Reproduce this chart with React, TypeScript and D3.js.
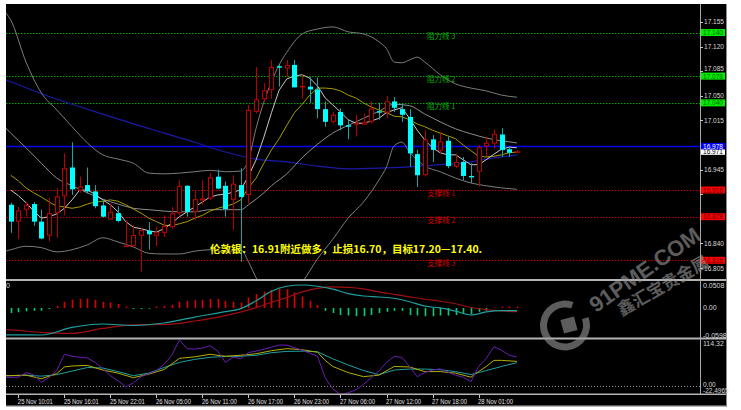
import React from "react";
import * as d3 from "d3";

// ---------- DATA ----------
const opens = [
  16.895, 16.871, 16.888, 16.896, 16.871, 16.851, 16.883, 16.907, 16.948, 16.915,
  16.923, 16.914, 16.894, 16.874, 16.883, 16.836, 16.836, 16.851, 16.858, 16.851,
  16.855, 16.863, 16.883, 16.922, 16.885, 16.901, 16.904, 16.935, 16.922, 16.902,
  16.923, 16.909, 17.027, 17.045, 17.058, 17.092, 17.089, 17.094, 17.063, 17.063,
  17.059, 17.031, 17.013, 17.027, 17.008, 17.009, 17.009, 17.013, 17.028, 17.026,
  17.042, 17.031, 17.020, 16.967, 16.937, 16.988, 16.972, 16.986, 16.949, 16.956,
  16.936, 16.942, 16.978, 16.982, 16.995, 16.974, 16.969,
];
const highs = [
  16.898, 16.892, 16.899, 16.899, 16.888, 16.905, 16.919, 16.968, 16.984, 16.935,
  16.948, 16.923, 16.902, 16.897, 16.893, 16.873, 16.866, 16.862, 16.870, 16.864,
  16.880, 16.892, 16.930, 16.923, 16.916, 16.930, 16.940, 16.945, 16.928, 16.937,
  16.947, 17.037, 17.091, 17.068, 17.101, 17.095, 17.101, 17.101, 17.080, 17.077,
  17.076, 17.042, 17.027, 17.032, 17.016, 17.023, 17.025, 17.042, 17.040, 17.050,
  17.048, 17.039, 17.031, 16.973, 17.001, 16.994, 16.999, 16.992, 16.968, 16.963,
  16.954, 16.980, 16.992, 17.002, 17.004, 16.978, 16.973,
];
const lows = [
  16.855, 16.846, 16.878, 16.865, 16.846, 16.843, 16.848, 16.880, 16.909, 16.912,
  16.911, 16.890, 16.877, 16.874, 16.870, 16.835, 16.835, 16.800, 16.831, 16.836,
  16.849, 16.861, 16.880, 16.878, 16.873, 16.895, 16.902, 16.917, 16.878, 16.859,
  16.814, 16.897, 17.025, 17.042, 17.046, 17.063, 17.077, 17.062, 17.046, 17.040,
  17.018, 17.006, 17.011, 17.001, 16.988, 16.992, 17.009, 17.011, 17.016, 17.018,
  17.027, 17.013, 16.949, 16.920, 16.935, 16.956, 16.968, 16.947, 16.947, 16.930,
  16.926, 16.921, 16.963, 16.975, 16.963, 16.963, 16.969,
];
const closes = [
  16.871, 16.887, 16.895, 16.871, 16.847, 16.883, 16.907, 16.947, 16.917, 16.921,
  16.914, 16.893, 16.878, 16.885, 16.872, 16.837, 16.852, 16.859, 16.853, 16.856,
  16.865, 16.883, 16.922, 16.885, 16.903, 16.904, 16.934, 16.918, 16.889, 16.925,
  16.906, 17.030, 17.045, 17.058, 17.091, 17.090, 17.094, 17.062, 17.064, 17.059,
  17.031, 17.013, 17.023, 17.008, 17.006, 17.011, 17.013, 17.032, 17.026, 17.042,
  17.033, 17.023, 16.968, 16.937, 16.988, 16.973, 16.985, 16.950, 16.956, 16.936,
  16.934, 16.977, 16.983, 16.996, 16.973, 16.969, 16.971,
];

const timeLabels = [
  "25 Nov 10:01", "25 Nov 16:01", "25 Nov 22:01", "26 Nov 05:00", "26 Nov 11:00", "26 Nov 17:00",
  "26 Nov 23:00", "27 Nov 06:00", "27 Nov 12:00", "27 Nov 18:00", "28 Nov 01:00",
];
const timeLabelBars = [1, 7, 13, 19, 25, 31, 37, 43, 49, 55, 61];

const priceTicks = [17.155, 17.12, 17.085, 17.05, 17.015, 16.98, 16.945, 16.91, 16.875, 16.84, 16.805];

const resistLevels = [17.14, 17.078, 17.04];
const resistNames = ["阻力线 3", "阻力线 2", "阻力线 1"];
const supportLevels = [16.916, 16.878, 16.816];
const supportNames = ["支撑线 1", "支撑线 2", "支撑线 3"];
const blueLevel = 16.978;
const bidPrice = 16.971;

const noteText = "伦敦银：16.91附近做多，止损16.70，目标17.20—17.40.";

// Bollinger bands  [bar, price]
const bandUpper: [number, number][] = [
  [-1, 17.172], [0, 17.158], [2, 17.098], [4, 17.054], [6, 17.03], [8, 17.006], [10, 16.983],
  [12, 16.966], [14, 16.96], [16, 16.954], [18, 16.94], [20, 16.939], [22, 16.94], [24, 16.942],
  [26, 16.944], [28, 16.942], [30, 16.943], [31, 16.959], [32, 17.004], [33, 17.041], [34, 17.07],
  [35, 17.094], [36, 17.112], [38, 17.138], [40, 17.145], [42, 17.148], [44, 17.141], [46, 17.138],
  [48, 17.127], [49, 17.117], [50, 17.098], [51, 17.097], [52, 17.101], [53, 17.105], [54, 17.098],
  [56, 17.08], [58, 17.067], [60, 17.061], [62, 17.057], [64, 17.051], [66, 17.048],
];
const bandMid: [number, number][] = [
  [-1, 17.008], [0, 16.997], [2, 16.976], [4, 16.954], [6, 16.933], [8, 16.922], [10, 16.912],
  [12, 16.903], [14, 16.896], [16, 16.89], [18, 16.888], [20, 16.886], [22, 16.885], [24, 16.885],
  [26, 16.888], [28, 16.888], [30, 16.888], [31, 16.895], [32, 16.903], [33, 16.912], [34, 16.922],
  [36, 16.939], [38, 16.962], [40, 16.981], [42, 16.997], [44, 17.008], [46, 17.018], [48, 17.028],
  [50, 17.038], [52, 17.036], [54, 17.024], [56, 17.013], [58, 17.003], [60, 16.996], [62, 16.99],
  [64, 16.986], [66, 16.983],
];
const bandLower: [number, number][] = [
  [-1, 16.828], [0, 16.831], [2, 16.836], [4, 16.834], [6, 16.828], [8, 16.831], [10, 16.838],
  [12, 16.848], [14, 16.842], [16, 16.835], [18, 16.826], [20, 16.825], [22, 16.825], [24, 16.829],
  [26, 16.831], [28, 16.828], [30, 16.831], [31, 16.814], [32, 16.791], [33, 16.774], [34, 16.764],
  [36, 16.765], [38, 16.785], [40, 16.818], [42, 16.846], [44, 16.876], [46, 16.899], [48, 16.93],
  [49, 16.949], [50, 16.979], [51, 16.984], [52, 16.97], [54, 16.95], [56, 16.942], [58, 16.933],
  [60, 16.926], [62, 16.922], [64, 16.919], [66, 16.917],
];

// moving averages (one value per bar)
const maFast = [
  16.916, 16.908, 16.898, 16.886, 16.876, 16.878, 16.882, 16.89, 16.902, 16.916,
  16.916, 16.91, 16.902, 16.895, 16.885, 16.871, 16.863, 16.861, 16.858, 16.856,
  16.861, 16.869, 16.878, 16.885, 16.892, 16.899, 16.906, 16.909, 16.91, 16.913,
  16.916, 16.936, 16.959, 16.991, 17.026, 17.058, 17.074, 17.078, 17.08, 17.075,
  17.064, 17.047, 17.037, 17.027, 17.016, 17.011, 17.011, 17.014, 17.018, 17.026,
  17.03, 17.033, 17.018, 17.001, 16.987, 16.976, 16.969, 16.966, 16.966, 16.959,
  16.952, 16.952, 16.959, 16.967, 16.974, 16.977, 16.976,
];
const maSlow = [
  16.937, 16.929, 16.919, 16.912, 16.906, 16.899, 16.893, 16.892, 16.89, 16.892,
  16.896, 16.899, 16.9, 16.902, 16.9, 16.895, 16.889, 16.883, 16.876, 16.871,
  16.866, 16.865, 16.868, 16.871, 16.876, 16.88, 16.886, 16.89, 16.893, 16.896,
  16.902, 16.919, 16.933, 16.954, 16.973, 16.989, 17.008, 17.026, 17.038, 17.051,
  17.061, 17.061, 17.06, 17.057, 17.051, 17.047, 17.04, 17.034, 17.03, 17.026,
  17.021, 17.02, 17.016, 17.01, 17.006, 17.001, 16.997, 16.993, 16.989, 16.98,
  16.972, 16.964, 16.963, 16.964, 16.966, 16.969, 16.97,
];
const maLong: [number, number][] = [
  [-1, 17.074], [0, 17.07], [4, 17.053], [8, 17.038], [12, 17.024], [16, 17.01], [20, 16.997],
  [24, 16.984], [28, 16.97], [32, 16.96], [36, 16.956], [40, 16.95], [44, 16.946], [48, 16.947],
  [52, 16.949], [56, 16.952], [60, 16.956], [62, 16.96], [64, 16.963], [66, 16.966],
];

// MACD panel
const macdHist = [
  -0.011, -0.0096, -0.0074, -0.0059, -0.0059, -0.0022, 0.005, 0.0138, 0.0182, 0.0197,
  0.021, 0.0182, 0.0138, 0.0123, 0.0088, 0.0035, -0.0022, -0.0022, -0.0015, 0.0035,
  0.005, 0.0072, 0.0138, 0.016, 0.0175, 0.0182, 0.0197, 0.0197, 0.016, 0.0138,
  0.0123, 0.0232, 0.0307, 0.0357, 0.0401, 0.0429, 0.0416, 0.0342, 0.0254, 0.016,
  0.0066, -0.0059, -0.011, -0.0153, -0.0169, -0.0184, -0.0184, -0.0153, -0.011, -0.0081,
  -0.0059, -0.0059, -0.0153, -0.0169, -0.0184, -0.0184, -0.0169, -0.0169, -0.0153, -0.0131,
  -0.0131, -0.0081, -0.0059, 0.0013, 0.0035, 0.0035, 0.0035,
];
const macdMain: [number, number][] = [
  [-1, -0.0594], [0, -0.0596], [4, -0.0598], [8, -0.0431], [12, -0.0355], [16, -0.0388],
  [20, -0.0333], [24, -0.0201], [28, -0.0081], [30, -0.0015], [32, 0.016], [34, 0.0368],
  [36, 0.048], [38, 0.0508], [40, 0.048], [42, 0.0418], [44, 0.0318], [46, 0.0265], [48, 0.0243],
  [50, 0.0215], [52, 0.0138], [54, 0.0039], [56, 0.0], [58, -0.007], [60, -0.0153], [62, -0.0088],
  [64, -0.0059], [66, -0.0059],
];
const macdSignal: [number, number][] = [
  [-1, -0.048], [0, -0.0486], [4, -0.0541], [8, -0.0563], [12, -0.0453], [16, -0.0372],
  [20, -0.0366], [24, -0.0289], [28, -0.0169], [32, 0.0007], [34, 0.0127], [36, 0.0232],
  [38, 0.0357], [40, 0.0434], [42, 0.0466], [44, 0.0456], [46, 0.0423], [48, 0.0357], [50, 0.0302],
  [52, 0.0247], [54, 0.0193], [56, 0.0149], [58, 0.0094], [60, 0.0011], [62, -0.0037],
  [64, -0.0066], [66, -0.0081],
];
const macdTickValues = [0.0508, 0, -0.0598];
const macdTickLabels = ["0.0508", "0.00", "-0.0598"];

// KDJ panel
const kdjJ: [number, number][] = [
  [-1, 20.5], [0, 20.5], [1, 21.0], [2, 32.5], [3, 26.6], [4, 8.2], [5, 20.5], [6, 37.6], [7, 78.5],
  [8, 73.4], [10, 69.1], [11, 58.1], [12, 42.7], [13, 24.8], [14, 12.0], [15, -3.3], [16, 6.9],
  [17, 22.3], [18, 29.9], [19, 37.6], [20, 52.9], [21, 76.0], [22, 114.3], [23, 92.6], [24, 91.3],
  [25, 93.9], [26, 99.8], [27, 86.2], [28, 58.1], [29, 71.6], [30, 67.5], [31, 82.9], [32, 86.2],
  [34, 96.4], [35, 101.5], [36, 101.5], [38, 88.8], [40, 73.4], [41, 19.7], [42, -8.4],
  [43, -22.5], [44, -18.0], [45, -11.0], [46, 3.1], [47, 19.7], [48, 36.3], [49, 58.1], [50, 72.9],
  [51, 70.8], [52, 47.8], [53, 22.3], [54, 32.5], [55, 38.9], [56, 41.9], [57, 33.8], [58, 26.1],
  [59, 21.0], [60, 9.5], [61, 47.8], [62, 68.3], [63, 97.2], [64, 88.8], [65, 76.0], [66, 71.6],
];
const kdjK: [number, number][] = [
  [-1, 24.8], [0, 24.8], [2, 26.1], [4, 17.1], [6, 29.9], [7, 46.6], [8, 49.1], [10, 50.4],
  [12, 38.9], [14, 31.2], [16, 19.7], [18, 28.7], [20, 40.2], [22, 68.3], [24, 72.1], [26, 78.5],
  [28, 73.4], [30, 76.0], [32, 79.8], [34, 87.5], [36, 92.6], [38, 90.0], [40, 83.6], [41, 63.2],
  [42, 47.8], [44, 32.5], [46, 22.3], [48, 26.1], [50, 47.8], [52, 46.6], [54, 35.0], [56, 35.0],
  [58, 31.2], [60, 21.0], [61, 35.0], [62, 47.8], [63, 63.2], [64, 63.2], [66, 60.6],
];
const kdjD: [number, number][] = [
  [-1, 24.8], [0, 24.8], [2, 26.1], [4, 23.5], [6, 27.4], [8, 36.3], [10, 45.3], [12, 44.0],
  [14, 35.0], [16, 24.8], [18, 31.2], [20, 45.3], [22, 58.1], [24, 65.7], [26, 70.8], [28, 73.4],
  [30, 73.4], [32, 76.0], [34, 82.4], [36, 85.7], [38, 86.2], [40, 84.9], [42, 67.0], [44, 51.7],
  [46, 37.6], [48, 27.4], [50, 38.9], [52, 41.4], [54, 41.4], [56, 39.6], [58, 35.0], [60, 27.4],
  [62, 37.6], [64, 47.8], [66, 57.3],
];
const kdjTickValues = [114.32, 0, -22.4965];
const kdjTickLabels = ["114.32", "0.00", "-22.4965"];

// ---------- COMPONENT ----------
const NUM_FONT = "'Liberation Sans', Arial, sans-serif";
const CJK_FONT = "'Noto Sans CJK SC', 'Noto Sans', sans-serif";

export default function App() {
  const x = d3.scaleLinear().domain([0, 66]).range([10.7, 516.9]);
  const yP = d3.scaleLinear().domain([16.7894, 17.1806]).range([279, 4]);
  const yM = d3.scaleLinear().domain([-0.0598, 0.0508]).range([335, 285]);
  const yS = d3.scaleLinear().domain([-22.4965, 114.32]).range([394.5, 340]);

  const pairs = (arr: number[]) => arr.map((v, i) => [i, v] as [number, number]);
  const gen = (ys: d3.ScaleLinear<number, number>, curve: d3.CurveFactory = d3.curveLinear) =>
    d3
      .line<[number, number]>()
      .x((d) => x(d[0]))
      .y((d) => ys(d[1]))
      .curve(curve);

  const smooth = d3.curveMonotoneX;
  const lp = gen(yP, smooth);
  const lpLin = gen(yP);
  const lm = gen(yM, smooth);
  const ls = gen(yS, d3.curveLinear);

  const crisp = (v: number) => Math.round(v) + 0.5;

  // price tick labels hidden behind the coloured level boxes are not drawn (as in the reference);
  // labels that touch a box are nudged away from it
  const boxLevels = [...resistLevels, ...supportLevels, blueLevel, bidPrice];
  const visibleTicks = priceTicks.filter(
    (t) => !boxLevels.some((b) => Math.abs(yP(t) - yP(b)) < 4.5)
  );
  const labelY = (t: number) => {
    let y = yP(t);
    boxLevels.forEach((b) => {
      const d = y - yP(b);
      if (Math.abs(d) < 7.5) y = yP(b) + Math.sign(d) * 7.5;
    });
    return y;
  };

  const ringArc = d3.arc()({
    innerRadius: 18,
    outerRadius: 25,
    startAngle: (70 * Math.PI) / 180,
    endAngle: (380 * Math.PI) / 180,
  } as any) as string;

  return (
    <svg
      width={741}
      height={410}
      style={{ position: "fixed", left: 0, top: 0, display: "block" }}
      fontFamily={NUM_FONT}
    >
      <defs>
        <clipPath id="clipMain">
          <rect x={6} y={4} width={694} height={275} />
        </clipPath>
        <clipPath id="clipMacd">
          <rect x={6} y={281} width={694} height={56.5} />
        </clipPath>
        <clipPath id="clipKdj">
          <rect x={6} y={339.5} width={694} height={54} />
        </clipPath>
      </defs>

      <rect x={0} y={0} width={741} height={410} fill="#ffffff" />
      <rect x={6} y={4} width={721} height={403} fill="#000000" />

      {/* ---------- MAIN PANEL ---------- */}
      <g clipPath="url(#clipMain)">
        {resistLevels.map((v, k) => (
          <line key={"r" + k} x1={6} x2={700} y1={crisp(yP(v))} y2={crisp(yP(v))}
            stroke="#00a800" strokeWidth={1} strokeDasharray="1.5,1.5" />
        ))}
        {supportLevels.map((v, k) => (
          <line key={"s" + k} x1={6} x2={700} y1={crisp(yP(v))} y2={crisp(yP(v))}
            stroke="#c00000" strokeWidth={1} strokeDasharray="1.5,1.5" />
        ))}
        <line x1={6} x2={700} y1={crisp(yP(blueLevel))} y2={crisp(yP(blueLevel))} stroke="#0000f0" strokeWidth={1.3} />

        {/* indicator lines */}
        <path d={lp(maLong) || ""} fill="none" stroke="#1a1aa8" strokeWidth={1.2} />
        <path d={lp(bandUpper) || ""} fill="none" stroke="#7c7c7c" strokeWidth={1} />
        <path d={lp(bandLower) || ""} fill="none" stroke="#7c7c7c" strokeWidth={1} />
        <path d={lp(bandMid) || ""} fill="none" stroke="#8c8c8c" strokeWidth={1} />
        <path d={lpLin(pairs(maSlow)) || ""} fill="none" stroke="#a89c00" strokeWidth={1} />
        <path d={lpLin(pairs(maFast)) || ""} fill="none" stroke="#c8c8c8" strokeWidth={1} />

        {/* candles */}
        {opens.map((o, i) => {
          const c = closes[i];
          const cx = Math.round(x(i));
          const bull = c >= o;
          const top = yP(Math.max(o, c));
          const bot = yP(Math.min(o, c));
          const h = Math.max(1, bot - top);
          return (
            <g key={"c" + i}>
              <line x1={cx + 0.5} x2={cx + 0.5} y1={yP(highs[i])} y2={yP(lows[i])}
                stroke={bull ? "#b80000" : "#14a8a8"} strokeWidth={1} />
              {bull ? (
                <rect x={cx - 1.5} y={top + 0.5} width={4} height={Math.max(0.5, h - 1)}
                  fill="#000" stroke="#c00000" strokeWidth={1} />
              ) : (
                <rect x={cx - 2} y={top} width={5} height={h} fill="#00ffff" />
              )}
            </g>
          );
        })}

        {/* level names */}
        {resistLevels.map((v, k) => (
          <text key={"rn" + k} x={427} y={yP(v) + 6} fontSize={7.5} fill="#00b000" fontFamily={CJK_FONT}>
            {resistNames[k]}
          </text>
        ))}
        {supportLevels.map((v, k) => (
          <text key={"sn" + k} x={427} y={yP(v) + 6} fontSize={7.5} fill="#d00000" fontFamily={CJK_FONT}>
            {supportNames[k]}
          </text>
        ))}

        <text x={210} y={252.5} fontSize={10.5} fontWeight="bold" fill="#ffff00" fontFamily={CJK_FONT}
          textLength={272} lengthAdjust="spacingAndGlyphs">
          {noteText}
        </text>
      </g>

      {/* ---------- MACD PANEL ---------- */}
      <g clipPath="url(#clipMacd)">
        {macdHist.map((v, i) => {
          const cx = Math.round(x(i)) + 0.5;
          return (
            <line key={"h" + i} x1={cx} x2={cx} y1={yM(0)} y2={yM(v)}
              stroke={v >= 0 ? "#e00000" : "#00d070"} strokeWidth={1.6} />
          );
        })}
        <path d={lm(macdSignal) || ""} fill="none" stroke="#a01010" strokeWidth={1.2} />
        <path d={lm(macdMain) || ""} fill="none" stroke="#1fa0a0" strokeWidth={1.2} />
      </g>
      <text x={6} y={287.5} fontSize={7} fill="#d8d8d8">0</text>

      {/* ---------- KDJ PANEL ---------- */}
      <g clipPath="url(#clipKdj)">
        <line x1={6} x2={700} y1={crisp(yS(0))} y2={crisp(yS(0))} stroke="#8a8a8a" strokeDasharray="1,2" />
        <path d={ls(kdjD) || ""} fill="none" stroke="#1fa0a0" strokeWidth={1} />
        <path d={ls(kdjK) || ""} fill="none" stroke="#b4b000" strokeWidth={1} />
        <path d={ls(kdjJ) || ""} fill="none" stroke="#6c1cb4" strokeWidth={1} />
      </g>

      {/* ---------- FRAMES ---------- */}
      <rect x={6} y={279} width={721} height={2} fill="#b4b4b4" />
      <rect x={6} y={337.5} width={721} height={2} fill="#b4b4b4" />
      <rect x={6} y={393.5} width={721} height={1.5} fill="#b4b4b4" />
      <rect x={6} y={405.5} width={721} height={1.5} fill="#b4b4b4" />
      <line x1={700.5} x2={700.5} y1={4} y2={395} stroke="#a8a8a8" strokeWidth={1} />
      <line x1={726.5} x2={726.5} y1={4} y2={407} stroke="#8a8a8a" strokeWidth={1} />

      {/* price axis */}
      {priceTicks.map((v, k) => (
        <line key={"ptk" + k} x1={700} x2={703} y1={crisp(yP(v))} y2={crisp(yP(v))} stroke="#c8c8c8" />
      ))}
      {visibleTicks.map((v, k) => (
        <text key={"pt" + k} x={704} y={labelY(v) + 2.5} fontSize={7} fill="#d8d8d8" textLength={20} lengthAdjust="spacingAndGlyphs">
          {v.toFixed(3)}
        </text>
      ))}
      {resistLevels.map((v, k) => (
        <g key={"rb" + k}>
          <rect x={701} y={yP(v) - 3.5} width={24} height={7} fill="#00ee00" />
          <text x={703} y={yP(v) + 2.5} fontSize={7} fill="#006000" textLength={20} lengthAdjust="spacingAndGlyphs">
            {v.toFixed(3)}
          </text>
        </g>
      ))}
      {supportLevels.map((v, k) => (
        <g key={"sb" + k}>
          <rect x={701} y={yP(v) - 3.5} width={24} height={7} fill="#ff0000" />
          <text x={703} y={yP(v) + 2.5} fontSize={7} fill="#600000" textLength={20} lengthAdjust="spacingAndGlyphs">
            {v.toFixed(3)}
          </text>
        </g>
      ))}
      <rect x={701} y={yP(bidPrice) - 3} width={24} height={6.5} fill="#ffffff" />
      <text x={703} y={yP(bidPrice) + 2.8} fontSize={6.5} fill="#000000" textLength={20} lengthAdjust="spacingAndGlyphs">
        {bidPrice.toFixed(3)}
      </text>
      <rect x={701} y={yP(blueLevel) - 3.5} width={24} height={6.5} fill="#0000ff" />
      <text x={703} y={yP(blueLevel) + 2.2} fontSize={6.5} fill="#ffffff" textLength={20} lengthAdjust="spacingAndGlyphs">
        {blueLevel.toFixed(3)}
      </text>

      {/* macd axis */}
      {macdTickValues.map((v, k) => (
        <text key={"mt" + k} x={703} y={yM(v) + 2.5} fontSize={7} fill="#d8d8d8">
          {macdTickLabels[k]}
        </text>
      ))}
      {/* kdj axis */}
      <text x={703} y={345.5} fontSize={7} fill="#d8d8d8">{kdjTickLabels[0]}</text>
      <text x={703} y={yS(kdjTickValues[1]) + 1.5} fontSize={6.5} fill="#d8d8d8">{kdjTickLabels[1]}</text>
      <text x={703} y={393} fontSize={6.5} fill="#d8d8d8">{kdjTickLabels[2]}</text>

      {/* time axis */}
      {timeLabelBars.map((b, k) => (
        <g key={"tl" + k}>
          <line x1={crisp(x(b))} x2={crisp(x(b))} y1={395} y2={398} stroke="#c8c8c8" />
          <text x={x(b) - 0.5} y={403.5} fontSize={7} fill="#e0e0e0" textLength={35} lengthAdjust="spacingAndGlyphs">
            {timeLabels[k]}
          </text>
        </g>
      ))}

      {/* watermark */}
      <g opacity={0.6}>
        <path d={ringArc} transform="translate(565,325.5)" fill="#9a9a9a" />
        <rect x={-7} y={-7} width={14} height={14} fill="#9a9a9a" transform="translate(569,325) rotate(-15)" />
        <text transform="translate(649,276) rotate(-35)" textAnchor="middle" fontSize={22} fontWeight="bold"
          fill="#9a9a9a" fontFamily={NUM_FONT}>
          91PME.COM
        </text>
        <text transform="translate(666,291) rotate(-30)" textAnchor="middle" fontSize={17} fontWeight="bold"
          fill="#9a9a9a" fontFamily={CJK_FONT}>
          鑫汇宝贵金属
        </text>
      </g>
    </svg>
  );
}
